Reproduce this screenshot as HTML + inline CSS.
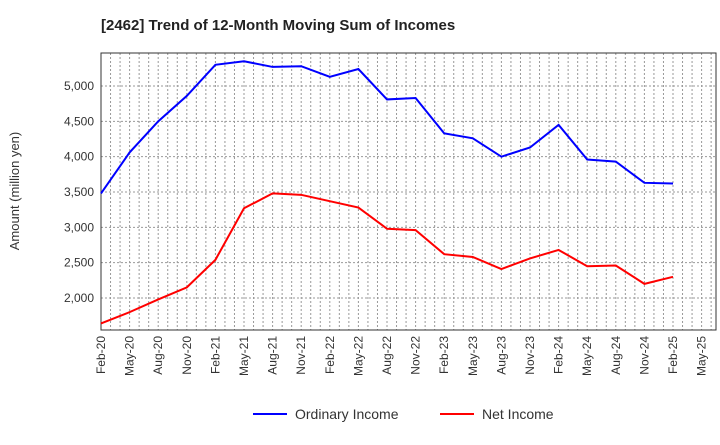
<!DOCTYPE html>
<html><head><meta charset="utf-8"><style>
body{margin:0;background:#fff;font-family:"Liberation Sans",sans-serif;}
</style></head><body>
<svg width="720" height="440" viewBox="0 0 720 440" xmlns="http://www.w3.org/2000/svg">
<text x="101" y="30" font-size="15" font-weight="bold" fill="#222">[2462]  Trend of 12-Month Moving Sum of Incomes</text>
<g id="grid"></g>
<rect x="101" y="53" width="615" height="277" fill="none" stroke="#333" stroke-width="1"/>
<g id="axes" font-size="12" fill="#333"></g>
<g id="series"></g>
<text transform="translate(19,191) rotate(-90)" text-anchor="middle" font-size="13" fill="#333">Amount (million yen)</text>
<g><line x1="253" y1="414" x2="287" y2="414" stroke="#0000ff" stroke-width="2"/><text x="295" y="419" font-size="14" fill="#333">Ordinary Income</text></g>
<g><line x1="440" y1="414" x2="474" y2="414" stroke="#ff0000" stroke-width="2"/><text x="482" y="419" font-size="14" fill="#333">Net Income</text></g>
</svg>
<script>
const categories=["Feb-20","May-20","Aug-20","Nov-20","Feb-21","May-21","Aug-21","Nov-21","Feb-22","May-22","Aug-22","Nov-22","Feb-23","May-23","Aug-23","Nov-23","Feb-24","May-24","Aug-24","Nov-24","Feb-25","May-25"];
const ordinaryIncome=[3480,4060,4500,4860,5300,5350,5270,5280,5130,5240,4810,4830,4330,4260,4000,4130,4450,3960,3930,3630,3620];
const netIncome=[1640,1800,1980,2150,2540,3270,3480,3460,3370,3280,2980,2960,2620,2580,2410,2560,2680,2450,2460,2200,2300];
const yTicks=[2000,2500,3000,3500,4000,4500,5000];
const NS="http://www.w3.org/2000/svg";
const X0=101,DX=28.6,Y0=298,KY=212/3000;
const xs=i=>X0+i*DX, ys=v=>Y0-(v-2000)*KY;
const grid=document.getElementById('grid'),axes=document.getElementById('axes'),series=document.getElementById('series');
function mk(t,a,p){const e=document.createElementNS(NS,t);for(const k in a)e.setAttribute(k,a[k]);p.appendChild(e);return e;}
for(let m=1;m<(categories.length-1)*3+5;m++){const x=X0+m*DX/3;if(x>=716)break;
const l=mk('line',{x1:x,y1:53,x2:x,y2:330,stroke:'#999','stroke-dasharray':'2,2','stroke-width':1},grid);

}
yTicks.forEach(v=>{const y=ys(v);
const l=mk('line',{x1:101,y1:y,x2:716,y2:y,stroke:'#999','stroke-dasharray':'2,2','stroke-width':1},grid);


const t=mk('text',{x:94,y:y+4,'text-anchor':'end'},axes);t.textContent=v.toLocaleString('en-US');

});
categories.forEach((c,i)=>{const x=xs(i);
const t=mk('text',{transform:`translate(${x+4},336) rotate(-90)`,'text-anchor':'end'},axes);t.textContent=c;

});
function line(d,col,name){const p=mk('polyline',{points:d.map((v,i)=>xs(i)+','+ys(v)).join(' '),fill:'none',stroke:col,'stroke-width':2},series);

}
line(ordinaryIncome,'#0000ff','ordinary-income-line');
line(netIncome,'#ff0000','net-income-line');
</script>
</body></html>
